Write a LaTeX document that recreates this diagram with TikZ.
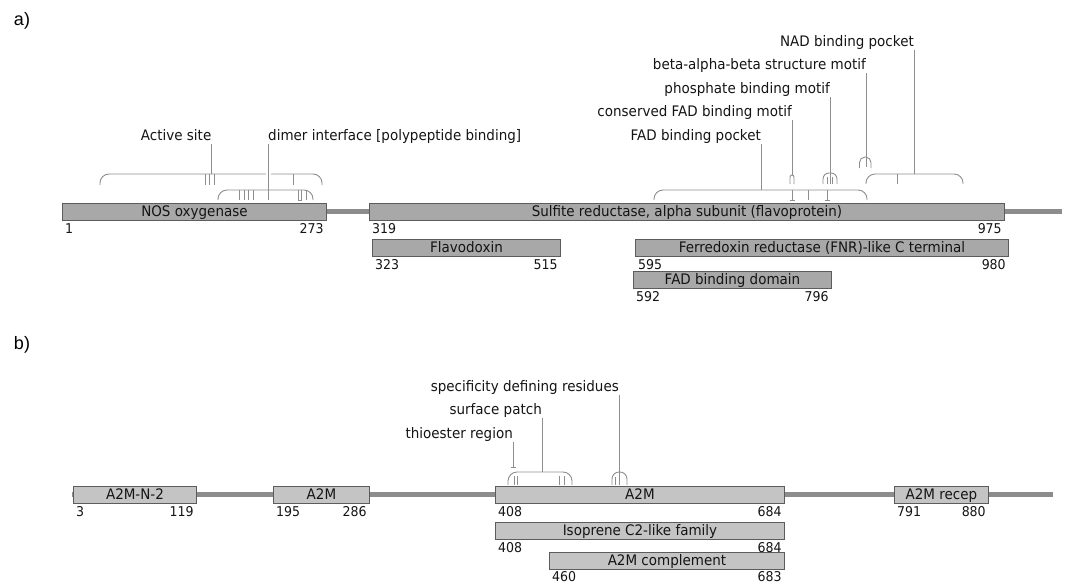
\documentclass[tikz,border=0pt]{standalone}
\usepackage{fontspec}
\setmainfont{DejaVu Sans}[FakeStretch=0.93]
\newfontfamily\panelfont{Liberation Sans}
\usepackage{xcolor}
\usepackage{tikz}
\usetikzlibrary{positioning}
\definecolor{boxa}{HTML}{A8A8A8}
\definecolor{boxb}{HTML}{C4C4C4}
\definecolor{edgegray}{HTML}{5C5C5C}
\definecolor{linegray}{HTML}{8C8C8C}
\definecolor{featgray}{HTML}{8E8E8E}
\definecolor{textgray}{HTML}{141414}
\newcommand{\lblfont}{\fontsize{14.5}{16}\selectfont}
\newcommand{\numfont}{\fontsize{13.5}{15}\selectfont}
\tikzstyle{domaina} = [rectangle, draw=edgegray, fill=boxa, line width=0.9pt, minimum height=17pt, inner sep=0pt, text height=10.5pt, text depth=2pt, anchor=north west, font=\lblfont, text=textgray]
\tikzstyle{domainb} = [domaina, fill=boxb]
\tikzstyle{num} = [inner sep=0pt, font=\numfont, text=textgray]
\tikzstyle{numl} = [num, anchor=north west, xshift=3pt, yshift=-2.5pt]
\tikzstyle{numr} = [num, anchor=north east, xshift=-3pt, yshift=-2.5pt]
\tikzstyle{featlabel} = [inner sep=0pt, text depth=3pt, anchor=south east, font=\lblfont, text=textgray]
\tikzstyle{backbone} = [draw=linegray, line width=5pt]
\tikzstyle{feat} = [draw=featgray, line width=0.9pt]
\tikzstyle{panel} = [font=\panelfont\fontsize{18}{20}\selectfont, text=black]
% bracket over a stretch of residues: x1, x2, top, bottom
\newcommand{\fbracket}[4]{\draw [feat, rounded corners=9pt] (#1,#4) -- (#1,#3) -- (#2,#3) -- (#2,#4);}
% small arc over one site: x1, x2, top, bottom, radius
\newcommand{\farc}[5]{\draw [feat, rounded corners=#5] (#1,#4) -- (#1,#3) -- (#2,#3) -- (#2,#4);}
\begin{document}
\begin{tikzpicture}[x=1pt, y=-1pt]
\useasboundingbox (0,0) rectangle (1070,586);

%% a) NOS / sulfite reductase
\node (pa) [panel] at (22,21) {a)};
\draw [backbone] (62,211.5) -- (1062,211.5);

\node (nos) [domaina, minimum width=264pt] at (62,203) {NOS oxygenase};
\node (sulf) [domaina, minimum width=635pt] at (369,203) {Sulfite reductase, alpha subunit (flavoprotein)};
\node (flavo) [domaina, minimum width=188pt] at (372,239) {Flavodoxin};
\node (fnr) [domaina, minimum width=373pt] at (635,239) {Ferredoxin reductase (FNR)-like C terminal};
\node (fad) [domaina, minimum width=198pt] at (633,271) {FAD binding domain};

\node [numl] at (nos.south west) {1};
\node [numr] at (nos.south east) {273};
\node [numl] at (sulf.south west) {319};
\node [numr] at (sulf.south east) {975};
\node [numl] at (flavo.south west) {323};
\node [numr] at (flavo.south east) {515};
\node [numl] at (fnr.south west) {595};
\node [numr] at (fnr.south east) {980};
\node [numl] at (fad.south west) {592};
\node [numr] at (fad.south east) {796};

% active site
\fbracket{100}{322}{174}{185}
\foreach \x in {205,209.5,214,293} \draw [feat] (\x,174) -- (\x,185);
\node (lactive) [featlabel] at (211.5,144) {Active site};
\coordinate (cactive) at (211.5,174);
\draw [feat] (lactive.south east) -- (cactive);

% dimer interface
\node (ldimer) [featlabel, anchor=south west] at (268,144) {dimer interface [polypeptide binding]};
\coordinate (cdimer) at (268,190);
\draw [feat, preaction={draw=white, line width=5pt}] (ldimer.south west) -- (cdimer);
\fbracket{218}{313}{190}{200}
\foreach \x in {239.5,244,248.5,253,268,306} \draw [feat] (\x,190) -- (\x,200);
\draw [feat] (298,190) -- (298,200) -- (301.5,200) -- (301.5,190);

% FAD binding pocket
\fbracket{654}{867}{190}{200}
\foreach \x in {792,827} \draw [feat] (\x,190) -- (\x,200) (\x-2.5,200) -- (\x+2.5,200);
\draw [feat] (808,190) -- (808,200);
\node (lfadp) [featlabel] at (761,144) {FAD binding pocket};
\coordinate (cfadp) at (761,190);
\draw [feat] (lfadp.south east) -- (cfadp);

% conserved FAD binding motif
\farc{790}{794}{175}{184}{2pt}
\node (lcons) [featlabel] at (792,120) {conserved FAD binding motif};
\coordinate (ccons) at (792,175);
\draw [feat] (lcons.south east) -- (ccons);

% phosphate binding motif
\farc{823}{837}{173}{184}{6pt}
\draw [feat] (827.5,177) -- (827.5,184) (832.5,177) -- (832.5,184);
\node (lphos) [featlabel] at (830,97) {phosphate binding motif};
\coordinate (cphos) at (830,184);
\draw [feat] (lphos.south east) -- (cphos);

% beta-alpha-beta structure motif
\farc{859.5}{871}{157}{168}{5.5pt}
\node (lbab) [featlabel] at (866,73) {beta-alpha-beta structure motif};
\coordinate (cbab) at (866,167);
\draw [feat] (lbab.south east) -- (cbab);

% NAD binding pocket
\fbracket{866}{963}{174}{184}
\draw [feat] (897,174) -- (897,184);
\node (lnad) [featlabel] at (914,50) {NAD binding pocket};
\coordinate (cnad) at (914,174);
\draw [feat] (lnad.south east) -- (cnad);

%% b) A2M
\node (pb) [panel] at (22,345) {b)};
\draw [backbone] (72,494.5) -- (1053,494.5);

\node (n2) [domainb, minimum width=123pt] at (73,486) {A2M-N-2};
\node (amf) [domainb, minimum width=96pt] at (273,486) {A2M};
\node (ams) [domainb, minimum width=289pt] at (495,486) {A2M};
\node (iso) [domainb, minimum width=289pt] at (495,522) {Isoprene C2-like family};
\node (cpl) [domainb, minimum width=235pt] at (549,552) {A2M complement};
\node (rec) [domainb, minimum width=94pt] at (894,486) {A2M recep};

\node [numl] at (n2.south west) {3};
\node [numr] at (n2.south east) {119};
\node [numl] at (amf.south west) {195};
\node [numr] at (amf.south east) {286};
\node [numl] at (ams.south west) {408};
\node [numr] at (ams.south east) {684};
\node [numl] at (iso.south west) {408};
\node [numr] at (iso.south east) {684};
\node [numl, yshift=1pt] at (cpl.south west) {460};
\node [numr, yshift=1pt] at (cpl.south east) {683};
\node [numl] at (rec.south west) {791};
\node [numr] at (rec.south east) {880};

% thioester region
\node (lthio) [featlabel] at (513,442) {thioester region};
\coordinate (cthio) at (513,467);
\draw [feat] (lthio.south east) -- (cthio);
\draw [feat] (510.5,467) -- (515.5,467);

% surface patch
\fbracket{508}{572}{472}{485}
\foreach \x in {514,517,559,564} \draw [feat] (\x,476) -- (\x,485);
\node (lsurf) [featlabel] at (542,418) {surface patch};
\coordinate (csurf) at (542,472);
\draw [feat] (lsurf.south east) -- (csurf);

% specificity defining residues
\farc{612}{627}{472}{485}{7pt}
\draw [feat] (615.5,477) -- (615.5,485);
\node (lspec) [featlabel] at (619,395) {specificity defining residues};
\coordinate (cspec) at (619,485);
\draw [feat] (lspec.south east) -- (cspec);
\end{tikzpicture}
\end{document}
